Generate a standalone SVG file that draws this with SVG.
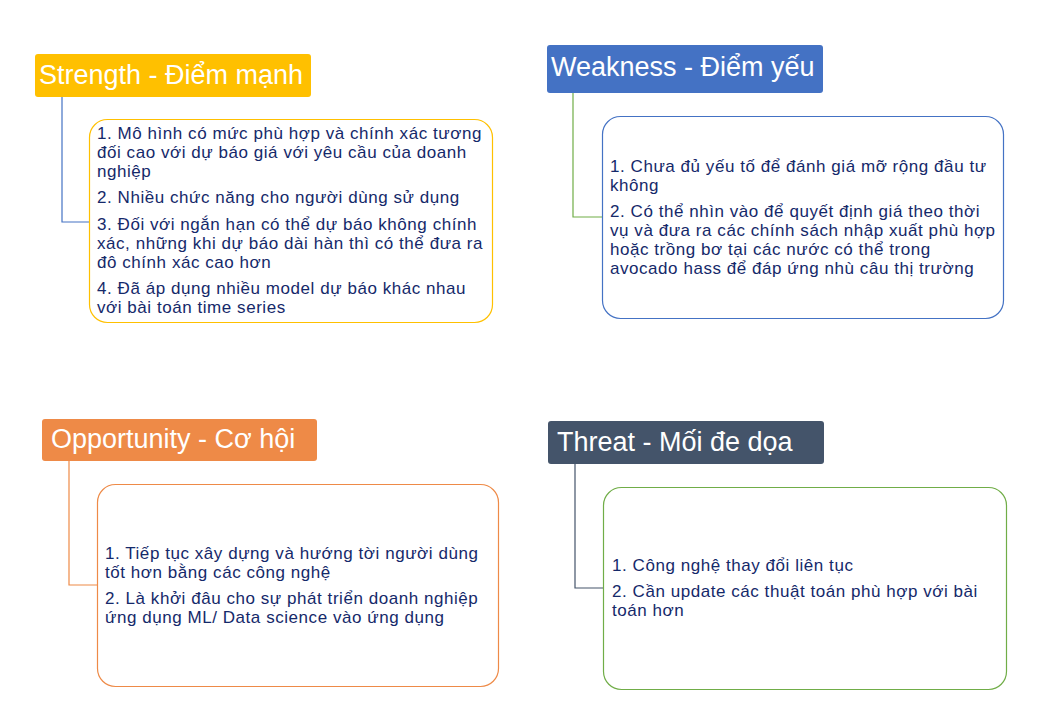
<svg xmlns="http://www.w3.org/2000/svg" width="1041" height="715" viewBox="0 0 1041 715">
<style>
.hd{font-family:"Liberation Sans",Arial,sans-serif;font-size:27px;fill:#ffffff}
.tx{font-family:"Liberation Sans",Arial,sans-serif;font-size:17px;letter-spacing:0.55px;fill:#15296a}
.box{fill:#ffffff;stroke-width:1.2}
.ln{fill:none;stroke-width:1.2}
</style>
<rect width="1041" height="715" fill="#ffffff"/>
<g id="connectors">
<path class="ln" stroke="#4472C4" d="M62,97 V222 H90"/>
<path class="ln" stroke="#70AD47" d="M573,93 V217 H602"/>
<path class="ln" stroke="#EE8A47" d="M69,461 V585 H97"/>
<path class="ln" stroke="#44546A" d="M575,464 V588 H603"/>
</g>
<g id="strength">
<rect x="35" y="54" width="276" height="43" rx="3" fill="#FFC000"/>
<text class="hd" x="39" y="84">Strength - Điểm mạnh</text>
</g>
<g id="strength-detail">
<rect class="box" x="89.5" y="119.5" width="403" height="203" rx="18" stroke="#FFC000"/>
<text class="tx" x="97" y="139">1. Mô hình có mức phù hợp và chính xác tương</text>
<text class="tx" x="97" y="158">đối cao với dự báo giá với yêu cầu của doanh</text>
<text class="tx" x="97" y="177">nghiệp</text>
<text class="tx" x="97" y="203">2. Nhiều chức năng cho người dùng sử dụng</text>
<text class="tx" x="97" y="230">3. Đối với ngắn hạn có thể dự báo không chính</text>
<text class="tx" x="97" y="249">xác, những khi dự báo dài hàn thì có thể đưa ra</text>
<text class="tx" x="97" y="268">đô chính xác cao hơn</text>
<text class="tx" x="97" y="294">4. Đã áp dụng nhiều model dự báo khác nhau</text>
<text class="tx" x="97" y="313">với bài toán time series</text>
</g>
<g id="weakness">
<rect x="547" y="45" width="276" height="48" rx="3" fill="#4472C4"/>
<text class="hd" x="551" y="76">Weakness - Điểm yếu</text>
</g>
<g id="weakness-detail">
<rect class="box" x="602.5" y="116.5" width="401" height="202" rx="18" stroke="#4472C4"/>
<text class="tx" x="610" y="172">1. Chưa đủ yếu tố để đánh giá mỡ rộng đầu tư</text>
<text class="tx" x="610" y="191">không</text>
<text class="tx" x="610" y="217">2. Có thể nhìn vào để quyết định giá theo thời</text>
<text class="tx" x="610" y="236">vụ và đưa ra các chính sách nhập xuất phù hợp</text>
<text class="tx" x="610" y="255">hoặc trồng bơ tại các nước có thể trong</text>
<text class="tx" x="610" y="274">avocado hass để đáp ứng nhù câu thị trường</text>
</g>
<g id="opportunity">
<rect x="42" y="419" width="275" height="42" rx="3" fill="#EE8A47"/>
<text class="hd" x="51" y="448">Opportunity - Cơ hội</text>
</g>
<g id="opportunity-detail">
<rect class="box" x="97.5" y="484.5" width="401" height="202" rx="18" stroke="#EE8A47"/>
<text class="tx" x="105" y="559">1. Tiếp tục xây dựng và hướng tời người dùng</text>
<text class="tx" x="105" y="578">tốt hơn bằng các công nghệ</text>
<text class="tx" x="105" y="604">2. Là khởi đâu cho sự phát triển doanh nghiệp</text>
<text class="tx" x="105" y="623">ứng dụng ML/ Data science vào ứng dụng</text>
</g>
<g id="threat">
<rect x="548" y="421" width="276" height="43" rx="3" fill="#44546A"/>
<text class="hd" x="557" y="451">Threat - Mối đe dọa</text>
</g>
<g id="threat-detail">
<rect class="box" x="603.5" y="487.5" width="403" height="202" rx="18" stroke="#70AD47"/>
<text class="tx" x="612" y="571">1. Công nghệ thay đổi liên tục</text>
<text class="tx" x="612" y="597">2. Cần update các thuật toán phù hợp với bài</text>
<text class="tx" x="612" y="616">toán hơn</text>
</g>
</svg>
